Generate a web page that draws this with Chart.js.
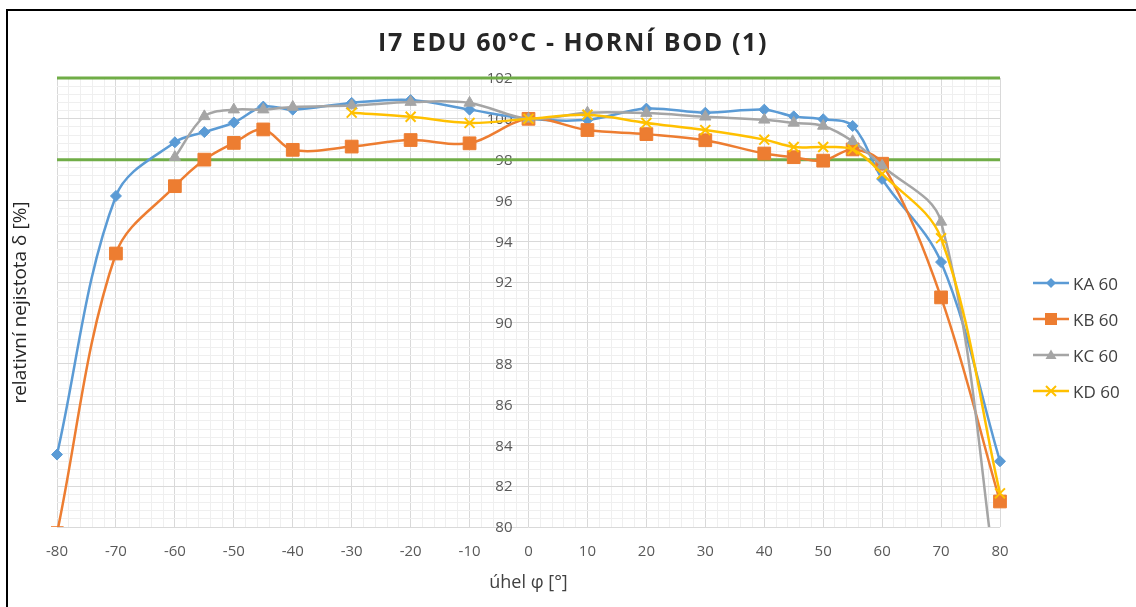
<!DOCTYPE html>
<html>
<head>
<meta charset="utf-8">
<script src="https://cdn.jsdelivr.net/npm/chart.js@4.4.1/dist/chart.umd.min.js"></script>
<style>
  html, body { margin: 0; padding: 0; background: #fff; }
  #wrap { position: relative; width: 1136px; height: 607px; overflow: hidden; background: #fff; }
  #frame { position: absolute; left: 6px; top: 9px; width: 1200px; height: 700px; border-left: 2px solid #000; border-top: 2px solid #000; }
  #c { position: absolute; left: 0; top: 0; }
  #title { position: absolute; left: 0; top: 24px; width: 1146px; text-align: center; font-family: "Open Sans", sans-serif; font-weight: 700; font-size: 25px; letter-spacing: 1.6px; color: #262626; line-height: 34px; white-space: nowrap; }
  .leg { position: absolute; left: 1033px; height: 20px; display: flex; align-items: center; font-family: "Open Sans", sans-serif; font-size: 17px; color: #404040; white-space: nowrap; }
  .leg svg { margin-right: 4px; }
</style>
</head>
<body>
<div id="wrap">
  <canvas id="c" width="1136" height="607"></canvas>
  <div id="frame"></div>
  <div id="title">I7 EDU 60°C - HORNÍ BOD (1)</div>
  <div id="legend"></div>
</div>
<script>
// ---- data ----
const anglesKA = [-80, -70, -60, -55, -50, -45, -40, -30, -20, -10, 0, 10, 20, 30, 40, 45, 50, 55, 60, 70, 80];
const valuesKA = [83.55, 96.22, 98.85, 99.35, 99.82, 100.6, 100.45, 100.78, 100.92, 100.45, 100.0, 99.95, 100.5, 100.3, 100.45, 100.12, 99.98, 99.65, 97.05, 92.98, 83.22];

const anglesKB = [-80, -70, -60, -55, -50, -45, -40, -30, -20, -10, 0, 10, 20, 30, 40, 45, 50, 55, 60, 70, 80];
const valuesKB = [79.7, 93.4, 96.7, 98.0, 98.82, 99.48, 98.48, 98.64, 98.96, 98.8, 100.0, 99.45, 99.25, 98.95, 98.3, 98.12, 97.95, 98.5, 97.8, 91.25, 81.25];

const anglesKC = [-60, -55, -50, -45, -40, -30, -20, -10, 0, 10, 20, 30, 40, 45, 50, 55, 60, 70, 80];
const valuesKC = [98.12, 100.12, 100.45, 100.45, 100.58, 100.65, 100.82, 100.78, 100.0, 100.3, 100.28, 100.1, 99.95, 99.8, 99.65, 98.9, 97.7, 94.95, 76.0];

const anglesKD = [-30, -20, -10, 0, 10, 20, 30, 40, 45, 50, 55, 60, 70, 80];
const valuesKD = [100.3, 100.1, 99.8, 100.0, 100.2, 99.8, 99.45, 98.98, 98.62, 98.62, 98.5, 97.3, 94.15, 81.65];

const limitAngles = [-80, 80];
const upperLimit = [102, 102];
const lowerLimit = [98, 98];

const seriesNames = ['KA 60', 'KB 60', 'KC 60', 'KD 60'];
const xTicksMajor = 10, xTicksMinor = 2;
const yTicksMajor = 2, yTicksMinor = 0.4;
const yMin = 80, yMax = 102, xMin = -80, xMax = 80;
const yAxisCross = 0;        // vertical axis crosses the horizontal one at 0°

// ---- helpers ----
const pts = (xs, ys) => xs.map((x, i) => ({ x: x, y: ys[i] }));
const isMult = (v, s) => Math.abs(v / s - Math.round(v / s)) < 1e-6;

const colors = ['#5b9bd5', '#ed7d31', '#a5a5a5', '#ffc000'];
const green = '#70ad47';
const majorGrid = '#d9d9d9';
const minorGrid = '#efefef';
const tickColor = '#595959';
const FONT = '"Open Sans", sans-serif';

function series(i, xs, ys, style, radius, extra) {
  return Object.assign({
    label: seriesNames[i],
    data: pts(xs, ys),
    borderColor: colors[i],
    backgroundColor: colors[i],
    borderWidth: 2.5,
    pointStyle: style,
    pointRadius: radius,
    pointHoverRadius: radius,
    pointBorderColor: colors[i],
    pointBackgroundColor: colors[i],
    pointBorderWidth: 1,
    tension: 0.35,
    fill: false,
    order: 4 - i,
    clip: 6
  }, extra || {});
}

const datasets = [
  series(0, anglesKA, valuesKA, 'rectRot', 5.5),
  series(1, anglesKB, valuesKB, 'rect', 9, { clip: { left: 6, top: 6, right: 8, bottom: 0 } }),
  series(2, anglesKC, valuesKC, 'triangle', 6.5, { clip: { left: 6, top: 6, right: 8, bottom: 0 } }),
  series(3, anglesKD, valuesKD, 'crossRot', 7, { pointBorderWidth: 2 }),
  { label: 'upper', data: pts(limitAngles, upperLimit), borderColor: green, borderWidth: 3, pointRadius: 0, tension: 0, order: 10, clip: 4 },
  { label: 'lower', data: pts(limitAngles, lowerLimit), borderColor: green, borderWidth: 3, pointRadius: 0, tension: 0, order: 10, clip: 4 }
];

// draws the y tick labels of the y scale next to the 0° line (Excel "axis crosses at 0")
const crossingLabels = {
  id: 'crossingLabels',
  beforeDatasetsDraw(chart) {
    const xs = chart.scales.x, ys = chart.scales.y, ctx = chart.ctx;
    const x = xs.getPixelForValue(yAxisCross) - 16;
    ctx.save();
    ctx.font = '15px ' + FONT;
    ctx.fillStyle = tickColor;
    ctx.textAlign = 'right';
    ctx.textBaseline = 'middle';
    ys.ticks.forEach(t => {
      if (isMult(t.value, yTicksMajor)) ctx.fillText(String(Math.round(t.value)), x, ys.getPixelForValue(t.value) + 1);
    });
    ctx.restore();
  }
};

new Chart(document.getElementById('c'), {
  type: 'line',
  data: { datasets: datasets },
  plugins: [crossingLabels],
  options: {
    responsive: false,
    animation: false,
    devicePixelRatio: 1,
    layout: { padding: { top: 78, right: 136, bottom: 0, left: 0 } },
    plugins: { legend: { display: false }, title: { display: false }, tooltip: { enabled: false } },
    scales: {
      x: {
        type: 'linear', min: xMin, max: xMax, position: 'bottom',
        afterFit: s => { s.height = 80; },
        border: { display: false },
        grid: {
          drawTicks: false,
          color: ctx => isMult(ctx.tick.value, xTicksMajor) ? majorGrid : minorGrid,
          lineWidth: 1
        },
        ticks: {
          stepSize: xTicksMinor, autoSkip: false, maxRotation: 0, padding: 16,
          color: tickColor, font: { family: FONT, size: 15 },
          callback: v => isMult(v, xTicksMajor) ? String(v) : ''
        },
        title: { display: true, text: 'úhel φ [°]', color: '#404040', font: { family: FONT, size: 18 }, padding: { top: 0, bottom: 13 } }
      },
      y: {
        type: 'linear', min: yMin, max: yMax, position: 'left',
        afterFit: s => { s.width = 57; },
        border: { display: false },
        grid: {
          drawTicks: false,
          color: ctx => isMult(ctx.tick.value, yTicksMajor) ? majorGrid : minorGrid,
          lineWidth: 1
        },
        ticks: { display: false, stepSize: yTicksMinor, autoSkip: false },
        title: { display: true, text: 'relativní nejistota δ [%]', color: '#262626', font: { family: FONT, size: 19 }, padding: { top: 9, bottom: 0 } }
      }
    }
  }
});

// ---- legend (HTML) ----
const markerSvg = [
  c => `<polygon points="18,2 23,7 18,12 13,7" fill="${c}"/>`,
  c => `<rect x="12" y="1" width="12" height="12" fill="${c}"/>`,
  c => `<polygon points="18,1.5 23.5,11 12.5,11" fill="${c}"/>`,
  c => `<path d="M13,2 L23,12 M23,2 L13,12" stroke="${c}" stroke-width="2"/>`
];
const legendTops = [273, 309, 345, 381];
const legend = document.getElementById('legend');
seriesNames.forEach((name, i) => {
  const d = document.createElement('div');
  d.className = 'leg';
  d.style.top = legendTops[i] + 'px';
  d.innerHTML = `<svg width="36" height="14" viewBox="0 0 36 14"><line x1="0" y1="7" x2="36" y2="7" stroke="${colors[i]}" stroke-width="2.5"/>${markerSvg[i](colors[i])}</svg><span>${name}</span>`;
  legend.appendChild(d);
});
</script>
</body>
</html>
